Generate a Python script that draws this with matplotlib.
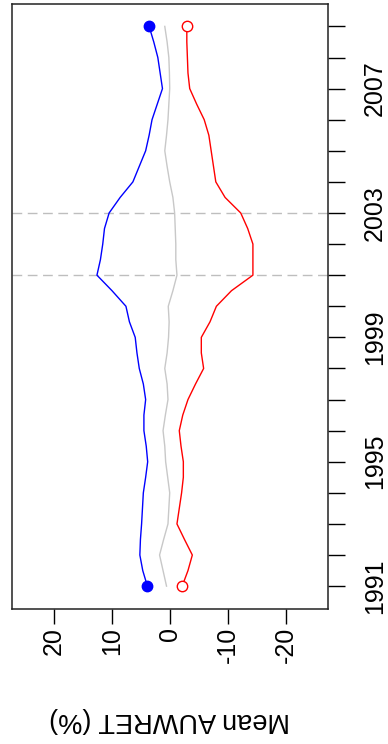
"""
Mean AUWRET by year, drawn sideways (years on the vertical axis).
"""
import numpy as np
import matplotlib.pyplot as plt

plt.rcParams['font.family'] = ['Liberation Sans', 'DejaVu Sans']
plt.rcParams['axes.unicode_minus'] = False

# half-year steps from 1991 to 2009
years = np.arange(1991, 2009.01, 0.5)

blue = [3.9, 4.7, 5.2, 5.1, 4.9, 4.75, 4.6, 4.2, 3.85, 4.1, 4.5, 4.5, 4.2,
        4.6, 5.3, 5.7, 6.0, 7.0, 7.6, 10.0, 12.6, 12.0, 11.6, 11.3, 10.5,
        8.6, 6.4, 5.3, 4.2, 3.6, 3.1, 2.2, 1.3, 1.7, 2.1, 2.8, 3.6]
red = [-2.1, -3.1, -3.85, -2.5, -1.2, -1.6, -2.0, -2.3, -2.3, -1.9, -1.6,
       -2.2, -3.1, -4.4, -5.8, -5.4, -5.4, -6.9, -8.0, -10.6, -14.3, -14.3,
       -14.3, -13.4, -12.2, -9.5, -7.9, -7.5, -7.1, -6.7, -5.9, -4.6, -3.4,
       -3.1, -3.0, -2.9, -2.9]
grey = [0.6, 1.2, 1.8, 1.1, 0.35, 0.2, 0.05, 0.4, 0.75, 0.9, 1.2, 0.8, 0.35,
        0.5, 0.9, 0.5, 0.25, 0.15, 0.3, -0.5, -1.2, -1.0, -1.0, -0.9, -0.8,
        -0.5, 0.05, 0.5, 0.9, 0.6, 0.35, 0.2, 0.05, 0.1, 0.2, 0.5, 0.9]

marked_years = [2001, 2003]
value_ticks = [20, 10, 0, -10, -20]
year_ticks = list(range(1991, 2010))
year_labels = [str(y) if (y - 1991) % 4 == 0 else '' for y in year_ticks]

fig = plt.figure(figsize=(3.88, 7.44), dpi=100)
ax = fig.add_axes([0.0317, 0.1821, 0.8129, 0.8125])

for y in marked_years:
    ax.axhline(y, color='#bebebe', lw=1.0, dashes=(7, 4), zorder=1)

ax.plot(grey, years, color='#c8c8c8', lw=1.0, zorder=2)
ax.plot(blue, years, color='#0000ff', lw=1.0, zorder=3)
ax.plot(red, years, color='#ff0000', lw=1.0, zorder=3)
ax.plot([blue[0], blue[-1]], [years[0], years[-1]], 'o', color='#0000ff',
        ms=7.5, zorder=4)
ax.plot([red[0], red[-1]], [years[0], years[-1]], 'o', mfc='white',
        mec='#ff0000', mew=1.0, ms=7.5, zorder=4)

ax.set_xlim(27.2, -27.2)
ax.set_ylim(1990.28, 2009.72)

ax.set_xticks(value_ticks)
ax.set_xticklabels([str(v) for v in value_ticks], rotation=90, fontsize=18)
ax.set_yticks(year_ticks)
ax.set_yticklabels(year_labels, rotation=90, va='center', fontsize=18)
ax.yaxis.tick_right()
ax.tick_params(axis='x', length=10.8, width=1.0, pad=2.5)
ax.tick_params(axis='y', length=12.2, width=1.0, pad=13)

for s in ax.spines.values():
    s.set_linewidth(1.1)
    s.set_color('#222222')

fig.text(170 / 388, 1 - 720 / 744, 'Mean AUWRET (%)', rotation=180,
         ha='center', va='center', fontsize=19.5)

fig.savefig('out.png', dpi=100)
plt.close(fig)
